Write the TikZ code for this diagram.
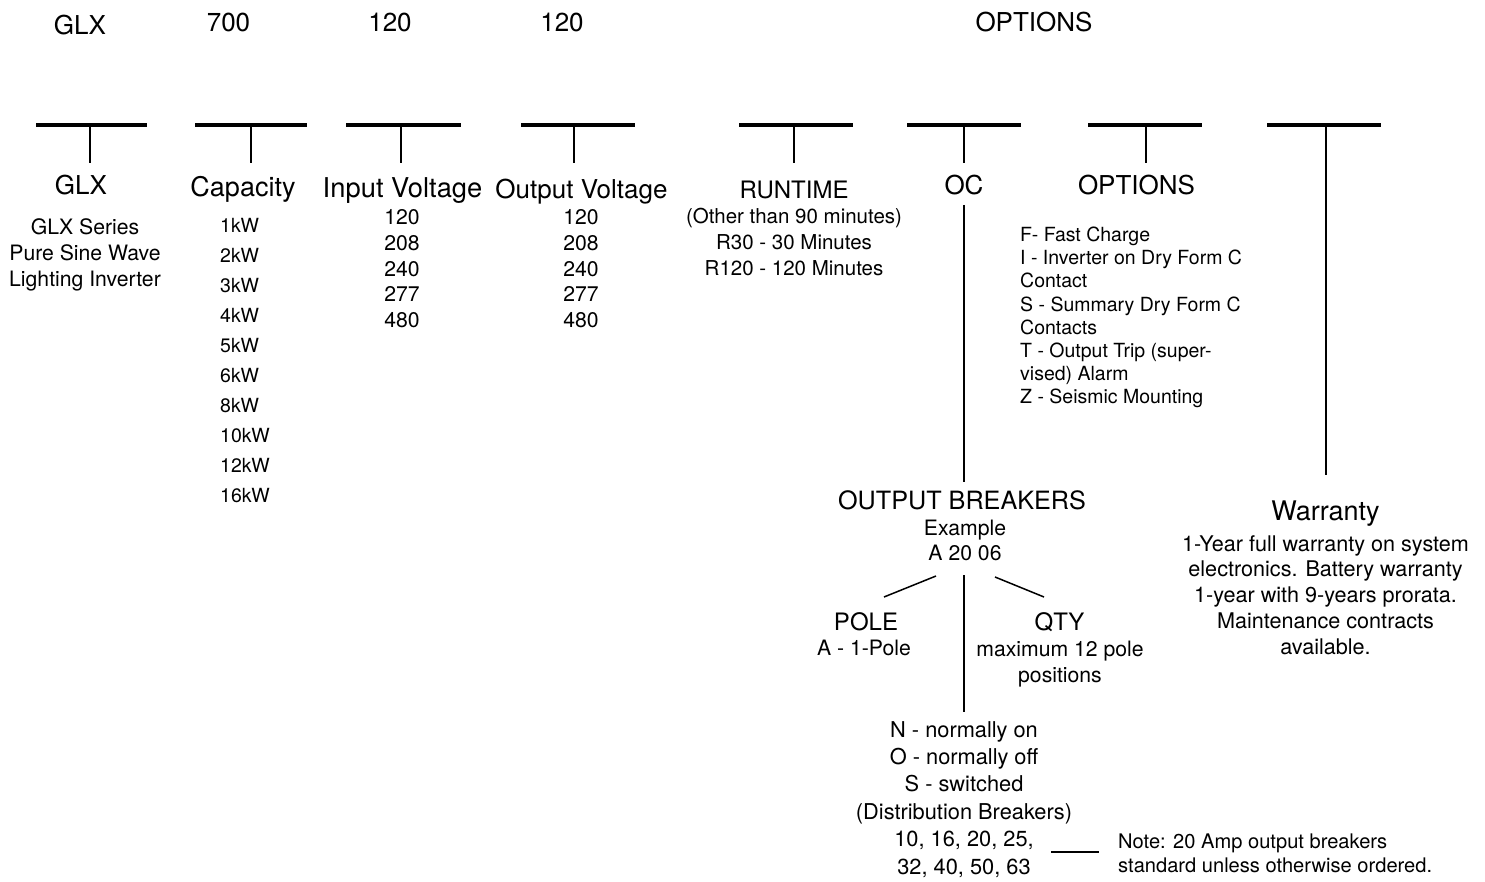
\documentclass[tikz,border=0pt]{standalone}
\usepackage{fontspec}
\setmainfont{TeX Gyre Heros}
\newcommand{\fsz}[1]{\fontsize{#1}{#1}\selectfont}
\begin{document}
\begin{tikzpicture}[x=1pt,y=-1pt,
  lbl/.style={inner sep=0pt, anchor=base},
  hd/.style={lbl, font=\fsz{26}},
  md/.style={lbl, font=\fsz{24}},
  sb/.style={lbl, font=\fsz{21.2}},
  sm/.style={lbl, font=\fsz{19.5}},
  lft/.style={anchor=base west},
  barline/.style={line width=3.2pt},
  stemline/.style={line width=2.2pt},
  thinline/.style={line width=1.5pt}]
\useasboundingbox (0,0) rectangle (1485,882);

% top codes
\node[hd] (tglx) at (80,35) {GLX};
\node[hd] (t700) at (228.5,32) {700};
\node[hd] (tin)  at (390,32) {120};
\node[hd] (tout) at (562,32) {120};
\node[hd] (topt) at (1034,32) {OPTIONS};

% T bars
\foreach \i/\l/\r/\s in {1/36/147/90, 2/195/307/251, 3/346/461/401, 4/521/635/574,
                         5/739/853/794, 6/907/1021/964, 7/1088/1202/1146}{
  \coordinate (bl\i) at (\l,125);
  \coordinate (br\i) at (\r,125);
  \coordinate (st\i) at (\s,125);
  \coordinate (se\i) at (\s,163);
  \draw[barline] (bl\i) -- (br\i);
  \draw[stemline] (st\i) -- (se\i);
}
\coordinate (bl8) at (1267,125);
\coordinate (br8) at (1381,125);
\coordinate (st8) at (1326,125);
\coordinate (se8) at (1326,475);
\draw[barline] (bl8) -- (br8);
\draw[stemline] (st8) -- (se8);

% headers
\node[hd] (hglx) at (81,195) {GLX};
\node[hd, font=\fsz{27}] (hcap) at (243,197) {Capacity};
\node[hd, font=\fsz{27.3}] (hin)  at (402.5,198) {Input Voltage};
\node[hd] (hout) at (581.5,199) {Output Voltage};
\node[md] (hrun) at (794,199) {RUNTIME};
\node[hd] (hoc)  at (964,195) {OC};
\node[hd] (hopt) at (1136.5,195) {OPTIONS};

% GLX description
\foreach \t [count=\i] in {GLX Series, Pure Sine Wave, Lighting Inverter}
  \node[sb] (g\i) at (85,235+26*\i-26) {\t};

% capacity list
\foreach \t [count=\i] in {1kW,2kW,3kW,4kW,5kW,6kW,8kW,10kW,12kW,16kW}
  \node[sm,lft] (c\i) at (220,233+29.9*\i-29.9) {\t};

% voltages
\foreach \t [count=\i] in {120,208,240,277,480}{
  \node[sb] (vi\i) at (402,225+25.6*\i-25.6) {\t};
  \node[sb] (vo\i) at (581,225+25.6*\i-25.6) {\t};
}

% runtime
\foreach \t [count=\i] in {(Other than 90 minutes), R30 - 30 Minutes, R120 - 120 Minutes}
  \node[sb, font=\fsz{20.5}] (r\i) at (794,224+26*\i-26) {\t};

% options list
\foreach \t [count=\i] in {F- Fast Charge, I - Inverter on Dry Form C, Contact,
   S - Summary Dry Form C, Contacts, T - Output Trip (super-, vised) Alarm,
   Z - Seismic Mounting}
  \node[sm,lft] (o\i) at (1020,241.5+23.2*\i-23.2) {\t};

% OC line to output breakers
\coordinate (oca) at (964,205);
\coordinate (ocb) at (964,482);
\draw[stemline] (oca) -- (ocb);

\node[md, font=\fsz{25.2}] (ob) at (962,509) {OUTPUT BREAKERS};
\node[sb] (ex1) at (965,535) {Example};
\node[sb] (ex2) at (965,560) {A 20 06};

% branches
\coordinate (pl1) at (936,576);
\coordinate (pl2) at (884,597);
\coordinate (ql1) at (995,577);
\coordinate (ql2) at (1044,597);
\coordinate (ma) at (964,575);
\coordinate (mb) at (964,712);
\draw[thinline] (pl1) -- (pl2);
\draw[thinline] (ql1) -- (ql2);
\draw[stemline] (ma) -- (mb);

\node[md] (pole) at (866,630) {POLE};
\node[sb] (pole1) at (864,655) {A - 1-Pole};
\node[md] (qty) at (1059.5,630) {QTY};
\node[sb] (qty1) at (1060,656) {maximum 12 pole};
\node[sb] (qty2) at (1060,682) {positions};

% distribution list
\foreach \t [count=\i] in {N - normally on, O - normally off, S - switched,
   (Distribution Breakers), {10, 16, 20, 25,}, {32, 40, 50, 63}}
  \node[sb, font=\fsz{21.8}] (d\i) at (964,737+27.4*\i-27.4) {\t};

% note
\coordinate (na) at (1051,852);
\coordinate (nb) at (1099,852);
\draw[stemline] (na) -- (nb);
\node[sm,lft, font=\fsz{20.1}] (n1) at (1118,848) {Note: 20 Amp output breakers};
\node[sm,lft, font=\fsz{20.1}] (n2) at (1118,872) {standard unless otherwise ordered.};

% warranty
\node[hd, font=\fsz{27}] (war) at (1325.5,520) {Warranty};
\foreach \t [count=\i] in {1-Year full warranty on system, electronics. Battery warranty,
   1-year with 9-years prorata., Maintenance contracts, available.}
  \node[sb, font=\fsz{21.6}] (w\i) at (1325.5,551+25.8*\i-25.8) {\t};
\end{tikzpicture}
\end{document}
